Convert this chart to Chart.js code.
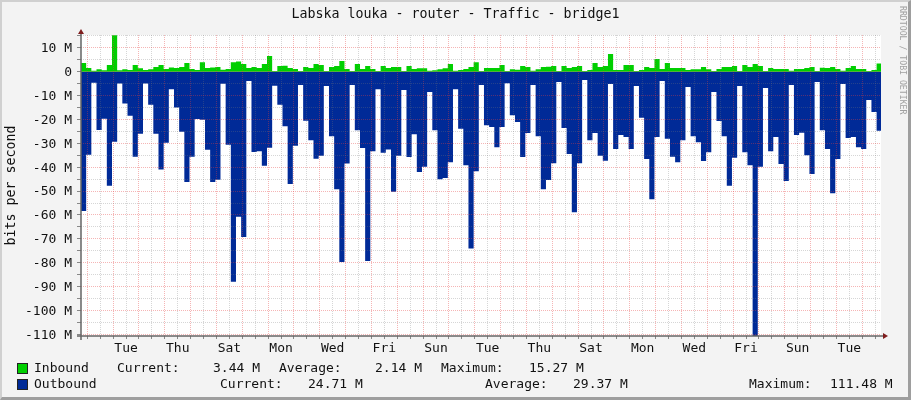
<!DOCTYPE html>
<html>
<head>
<meta charset="utf-8">
<title>Labska louka - router - Traffic - bridge1</title>
<script src="https://cdn.jsdelivr.net/npm/chart.js@4/dist/chart.umd.min.js"></script>
<style>
  html, body { margin: 0; padding: 0; background: #f3f3f3; overflow: hidden; }
  #frame { position: absolute; left: 0; top: 0; width: 911px; height: 400px; box-sizing: border-box;
    border-left: 2px solid #d0d0d0; border-top: 2px solid #d0d0d0;
    border-right: 3px solid #9e9e9e; border-bottom: 3px solid #9e9e9e; }
  canvas { position: absolute; left: 0; top: 0; }
  #chart-title { position: absolute; left: 0; top: 6px; width: 911px; text-align: center;
    font: 13.3px/16px "DejaVu Sans Mono", monospace; color: #111; white-space: pre; }
  .legend-text { position: absolute; font: 13px "DejaVu Sans Mono", monospace; color: #111; white-space: pre; line-height: 16px; }
  .swatch { position: absolute; width: 9px; height: 9px; border: 1px solid #222; }
  #watermark { position: absolute; left: 898px; top: 6px; font: 8.2px/10px "DejaVu Sans Mono", monospace;
    color: #a0a0a0; writing-mode: vertical-rl; white-space: pre; }
</style>
</head>
<body>
<div id="frame"></div>
<canvas id="traffic-chart" width="911" height="400"></canvas>
<div id="chart-title">Labska louka - router - Traffic - bridge1</div>
<div id="watermark">RRDTOOL / TOBI OETIKER</div>
<div id="legend"></div>
<script>
// values in M (bits per second), one sample every 0.2 days
const inboundValues = [
  3.6, 1.5, 0.4, 1, 0.6, 2.8, 15.27, 0.6, 1, 0.7, 2.8, 1.4, 0.7, 1, 2, 2.8, 1.1, 1.8, 1.5, 2,
  3.6, 1.1, 0.7, 4, 1.5, 1.8, 2, 0.8, 1.1, 4, 4.3, 3.2, 1.5, 2, 1.5, 3.2, 6.6, 0.3, 2.4, 2.5,
  1.5, 1.1, 0.3, 2, 1.5, 3.2, 2.8, 0.3, 2, 2.4, 4.5, 1.1, 0.3, 3.2, 1.1, 2.4, 1.1, 0.3, 2.4, 1.5,
  2, 2, 0.3, 2.4, 1.1, 1.4, 1.4, 0.4, 0.6, 1, 1.4, 3.2, 0.4, 0.7, 1.1, 2, 4, 0.3, 1.5, 1.5,
  1.5, 2.8, 0.3, 1, 0.8, 2.4, 2, 0.4, 1, 2, 2.1, 2.4, 0.3, 2.4, 1.5, 2, 2.4, 0.3, 0.7, 3.6,
  2, 2.4, 7.4, 0.7, 0.7, 2.8, 2.8, 0.3, 0.7, 2, 1.5, 5.3, 1.1, 3.6, 1.5, 1.5, 1.5, 0.7, 1, 1,
  2, 1, 0.3, 1.1, 2, 2, 2.4, 0.3, 2.8, 2, 3.2, 2.4, 0.3, 1.5, 1.1, 1.1, 1.1, 0.4, 1.1, 1.1,
  1.5, 2, 0.3, 1.7, 1.5, 2, 1.1, 0.4, 1.5, 2.4, 1.1, 1.1, 0.3, 0.7, 3.44,
];
const outboundValues = [
  -58.3, -34.8, -4.6, -24.4, -19.7, -47.8, -29.3, -4.9, -13.3, -18.4, -35.6, -26, -4.9, -13.8, -26, -41, -29.8, -7.3, -15, -25.2,
  -46.2, -35.6, -19.8, -20.1, -32.7, -46.2, -45.3, -5, -30.6, -88, -60.8, -69.2, -3.9, -33.6, -33.3, -39.4, -31.9, -5.9, -13.8, -22.8,
  -47, -31, -5.6, -20.5, -28.7, -36.5, -35.2, -6, -27, -49.2, -79.7, -38.5, -5.6, -24.5, -32, -79.3, -33.3, -7.3, -34, -32.6,
  -50.3, -35.2, -7.7, -35.7, -26.2, -42, -39.8, -8.5, -24.5, -45, -44.5, -37.9, -7.3, -23.9, -39.2, -74, -41.7, -5.6, -22.4, -23.2,
  -31.6, -23.2, -4.8, -18.2, -21.1, -35.7, -25.7, -5.6, -27, -49.2, -45.4, -38.3, -4.3, -23.6, -34.5, -58.9, -38.3, -3.5, -28.7, -25.7,
  -35.2, -37.3, -5.2, -32.4, -26.5, -27.3, -32.4, -6, -19.3, -36.6, -53.4, -27.4, -3.9, -28.1, -35.6, -37.9, -28.7, -6.4, -27, -29.5,
  -37.4, -33.7, -8.5, -20.7, -27, -47.8, -36, -6, -33.7, -39.2, -111.48, -39.8, -6.8, -33.3, -27.4, -38.7, -45.8, -5.6, -26.5, -25.6,
  -35, -42.9, -4.3, -24.5, -32.4, -50.9, -36.6, -5.2, -27.8, -27.4, -31.6, -32.4, -11.9, -16.9, -24.71,
];
const dayLabels = ["Tue", "Thu", "Sat", "Mon", "Wed", "Fri", "Sun", "Tue", "Thu", "Sat", "Mon", "Wed", "Fri", "Sun", "Tue"];
const yTicks = [
  15, 10, 5, 0, -5, -10, -15, -20, -25, -30, -35, -40, -45, -50, -55, -60, -65, -70, -75,
  -80, -85, -90, -95, -100, -105, -110,
];
const legendRows = [
  [[34, "Inbound"], [117, "Current:"], [213, "3.44 M"], [279, "Average:"], [375, "2.14 M"], [441, "Maximum:"], [529, "15.27 M"]],
  [[34, "Outbound"], [220, "Current:"], [308, "24.71 M"], [485, "Average:"], [573, "29.37 M"], [749, "Maximum:"], [830, "111.48 M"]],
];

const SAMPLE_DAYS = 0.2;
const FIRST_MIDNIGHT = 0.244;
const GREEN = "#00cf00";
const BLUE = "#002a97";
const FONT = "'DejaVu Sans Mono', monospace";
const GRID_MAJOR = "rgba(230,60,60,0.38)";
const GRID_MINOR = "rgba(120,120,120,0.3)";

function stepSeries(values) {
  const points = values.map((value, index) => ({ x: index * SAMPLE_DAYS, y: value }));
  points.push({ x: values.length * SAMPLE_DAYS, y: values[values.length - 1] });
  return points;
}

function areaDataset(label, values, color) {
  return {
    label,
    data: stepSeries(values),
    stepped: "before",
    fill: "origin",
    backgroundColor: color,
    borderColor: color,
    borderWidth: 0,
    pointRadius: 0,
  };
}

const frameAndAxes = {
  id: "frameAndAxes",
  afterUpdate(chart) {
    // the y labels sit about a pixel higher than in the original
    chart.scales.y.getLabelItems().forEach((item) => {
      item.options.translation[1] += 1;
    });
  },
  beforeDraw(chart) {
    const { ctx, chartArea: a } = chart;
    ctx.save();
    ctx.fillStyle = "#ffffff";
    ctx.fillRect(a.left, a.top, a.width, a.height);
    ctx.restore();
  },
  afterDraw(chart) {
    const { ctx, chartArea: a } = chart;
    ctx.save();
    ctx.strokeStyle = "#666666";
    ctx.lineWidth = 1.5;
    ctx.beginPath();
    ctx.moveTo(a.left, a.bottom + 4);
    ctx.lineTo(a.left, a.top - 2);
    ctx.moveTo(a.left - 4, a.bottom);
    ctx.lineTo(a.right + 3, a.bottom);
    ctx.stroke();
    ctx.fillStyle = "#7f1d1d";
    ctx.beginPath();
    ctx.moveTo(a.left - 3, a.top - 1);
    ctx.lineTo(a.left + 3, a.top - 1);
    ctx.lineTo(a.left, a.top - 6);
    ctx.fill();
    ctx.beginPath();
    ctx.moveTo(a.right + 2, a.bottom - 3);
    ctx.lineTo(a.right + 2, a.bottom + 3);
    ctx.lineTo(a.right + 7, a.bottom);
    ctx.fill();
    ctx.restore();
  },
};

new Chart(document.getElementById("traffic-chart"), {
  type: "line",
  data: {
    datasets: [
      areaDataset("Inbound", inboundValues, GREEN),
      areaDataset("Outbound", outboundValues, BLUE),
    ],
  },
  options: {
    responsive: false,
    animation: false,
    devicePixelRatio: 1,
    layout: { padding: { top: 35, right: 30 } },
    plugins: {
      legend: { display: false },
      tooltip: { enabled: false },
    },
    scales: {
      x: {
        type: "linear",
        min: 0,
        max: 30.97,
        afterBuildTicks(scale) {
          const ticks = [];
          for (let k = 0; k < 62; k += 1) {
            ticks.push({ value: FIRST_MIDNIGHT + k * 0.5 });
          }
          scale.ticks = ticks;
        },
        afterFit(scale) {
          scale.height = 64;
        },
        grid: {
          z: 1,
          tickLength: 3,
          color: (ctx) => (ctx.index % 2 === 0 ? GRID_MAJOR : GRID_MINOR),
          tickColor: "#888888",
        },
        border: { display: false, dash: [1, 1] },
        ticks: {
          autoSkip: false,
          maxRotation: 0,
          padding: 2,
          color: "#111111",
          font: { family: FONT, size: 13 },
          callback(value, index) {
            return index % 4 === 3 ? dayLabels[(index - 3) / 4] || "" : "";
          },
        },
      },
      y: {
        min: -110.7,
        max: 15.37,
        afterBuildTicks(scale) {
          scale.ticks = yTicks.map((value) => ({ value }));
        },
        afterFit(scale) {
          scale.width = 81;
        },
        grid: {
          z: 1,
          tickLength: 4,
          color: (ctx) => (ctx.tick && ctx.tick.value % 10 === 0 ? GRID_MAJOR : GRID_MINOR),
          tickColor: "#888888",
        },
        border: { display: false, dash: [1, 1] },
        title: {
          display: true,
          text: "bits per second",
          color: "#111111",
          font: { family: FONT, size: 13.3, lineHeight: 1 },
          padding: { top: 5, bottom: 0 },
        },
        ticks: {
          autoSkip: false,
          padding: 5,
          color: "#111111",
          font: { family: FONT, size: 13 },
          callback(value) {
            if (value % 10 !== 0) {
              return "";
            }
            return value === 0 ? "0" : `${value} M`;
          },
        },
      },
    },
  },
  plugins: [frameAndAxes],
});

function renderLegend() {
  const container = document.getElementById("legend");
  const swatchColors = [GREEN, BLUE];
  legendRows.forEach((tokens, row) => {
    const swatch = document.createElement("div");
    swatch.className = "swatch";
    swatch.style.left = "17px";
    swatch.style.top = `${363 + row * 16}px`;
    swatch.style.background = swatchColors[row];
    container.appendChild(swatch);
    tokens.forEach(([left, text]) => {
      const span = document.createElement("div");
      span.className = "legend-text";
      span.style.left = `${left}px`;
      span.style.top = `${360 + row * 16}px`;
      span.textContent = text;
      container.appendChild(span);
    });
  });
}

renderLegend();
</script>
</body>
</html>
